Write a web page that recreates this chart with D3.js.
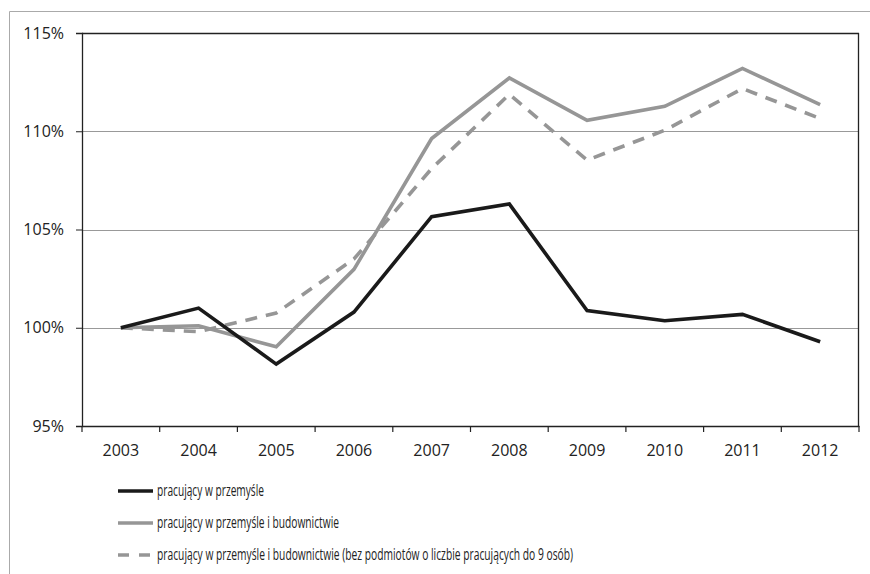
<!DOCTYPE html>
<html><head><meta charset="utf-8">
<script src="https://cdn.jsdelivr.net/npm/d3@7"></script>
<style>body{margin:0;background:#fff}svg{display:block}</style>
</head><body>
<svg id="c" width="870" height="574"></svg>
<script>
const years = ["2003","2004","2005","2006","2007","2008","2009","2010","2011","2012"];
const przemysl = [100, 101.0, 98.15, 100.8, 105.65, 106.3, 100.87, 100.36, 100.68, 99.29];
const przemyslBud = [100, 100.1, 99.03, 102.97, 109.63, 112.71, 110.56, 111.27, 113.2, 111.36];
const przemyslBudBez = [100, 99.8, 100.75, 103.5, 108.1, 111.88, 108.53, 110.05, 112.17, 110.65];
const yTicks = [95, 100, 105, 110, 115];
const seriesNames = [
  "pracujący w przemyśle",
  "pracujący w przemyśle i budownictwie",
  "pracujący w przemyśle i budownictwie (bez podmiotów o liczbie pracujących do 9 osób)"
];

const svg = d3.select("#c");
const font = "'Open Sans', sans-serif";
const L = 82, R = 859, T = 33, B = 426;

// outer frame
svg.append("line").attr("x1",9.5).attr("x2",870).attr("y1",11.5).attr("y2",11.5).attr("stroke","#aaa");
svg.append("line").attr("x1",9.5).attr("x2",9.5).attr("y1",11.5).attr("y2",574).attr("stroke","#aaa");

const x = d3.scaleBand().domain(years).range([L, R]).padding(0);
const y = d3.scaleLinear().domain([95, 115]).range([B, T]);

// gridlines
svg.append("g").selectAll("line").data(yTicks.filter(v => v > 95 && v < 115)).join("line")
  .attr("x1", L).attr("x2", R).attr("y1", d => Math.round(y(d))+0.5).attr("y2", d => Math.round(y(d))+0.5)
  .attr("stroke", "#999").attr("stroke-width", 1);

// frame top/right
svg.append("line").attr("x1",L).attr("x2",R).attr("y1",T+0.5).attr("y2",T+0.5).attr("stroke","#222").attr("stroke-width",1.3);
svg.append("line").attr("x1",R-0.5).attr("x2",R-0.5).attr("y1",T).attr("y2",B).attr("stroke","#222").attr("stroke-width",1.3);

// y axis
const yAxis = svg.append("g").attr("transform", `translate(${L},0)`)
  .call(d3.axisLeft(y).tickValues(yTicks).tickFormat(d => d + "%").tickSize(6).tickPadding(12));
yAxis.select(".domain").attr("stroke", "#222").attr("stroke-width", 1.3);
yAxis.selectAll(".tick line").attr("stroke", "#222");
yAxis.selectAll("text").attr("font-family", font).attr("font-size", 16).attr("fill", "#222");

// x axis
const xAxis = svg.append("g").attr("transform", `translate(0,${B})`)
  .call(d3.axisBottom(x).tickSize(0).tickPadding(19));
xAxis.select(".domain").attr("stroke", "#222").attr("stroke-width", 1.3);
xAxis.selectAll("text").attr("font-family", font).attr("font-size", 16).attr("fill", "#222");
// category boundary ticks
const bounds = years.map(d => x(d)).concat([R]);
svg.append("g").selectAll("line").data(bounds).join("line")
  .attr("x1", d => d).attr("x2", d => d).attr("y1", B).attr("y2", B + 6)
  .attr("stroke", "#222").attr("stroke-width", 1.2);

const line = d3.line().x((d, i) => x(years[i]) + x.bandwidth() / 2).y(d => y(d));
const styles = [
  {data: przemysl, color: "#1a1a1a", dash: null},
  {data: przemyslBud, color: "#969696", dash: null},
  {data: przemyslBudBez, color: "#969696", dash: "12,9"}
];
// draw order: dashed, gray, black
[2, 1, 0].forEach(i => {
  const s = styles[i];
  svg.append("path").datum(s.data).attr("d", line)
    .attr("fill", "none").attr("stroke", s.color).attr("stroke-width", 3.6)
    .attr("stroke-linejoin", "miter").attr("stroke-dasharray", s.dash);
});

// legend
const legY = [491, 523, 555];
const legW = [107, 182, 416];
styles.forEach((s, i) => {
  svg.append("line").attr("x1", 118).attr("x2", 153).attr("y1", legY[i]).attr("y2", legY[i])
    .attr("stroke", s.color).attr("stroke-width", 3.6).attr("stroke-dasharray", s.dash ? "11,10" : null);
  svg.append("text").attr("x", 157).attr("y", legY[i] + 5).text(seriesNames[i])
    .attr("font-family", font).attr("font-size", 15.5).attr("fill", "#222")
    .attr("textLength", legW[i]).attr("lengthAdjust", "spacingAndGlyphs");
});
</script>
</body></html>
